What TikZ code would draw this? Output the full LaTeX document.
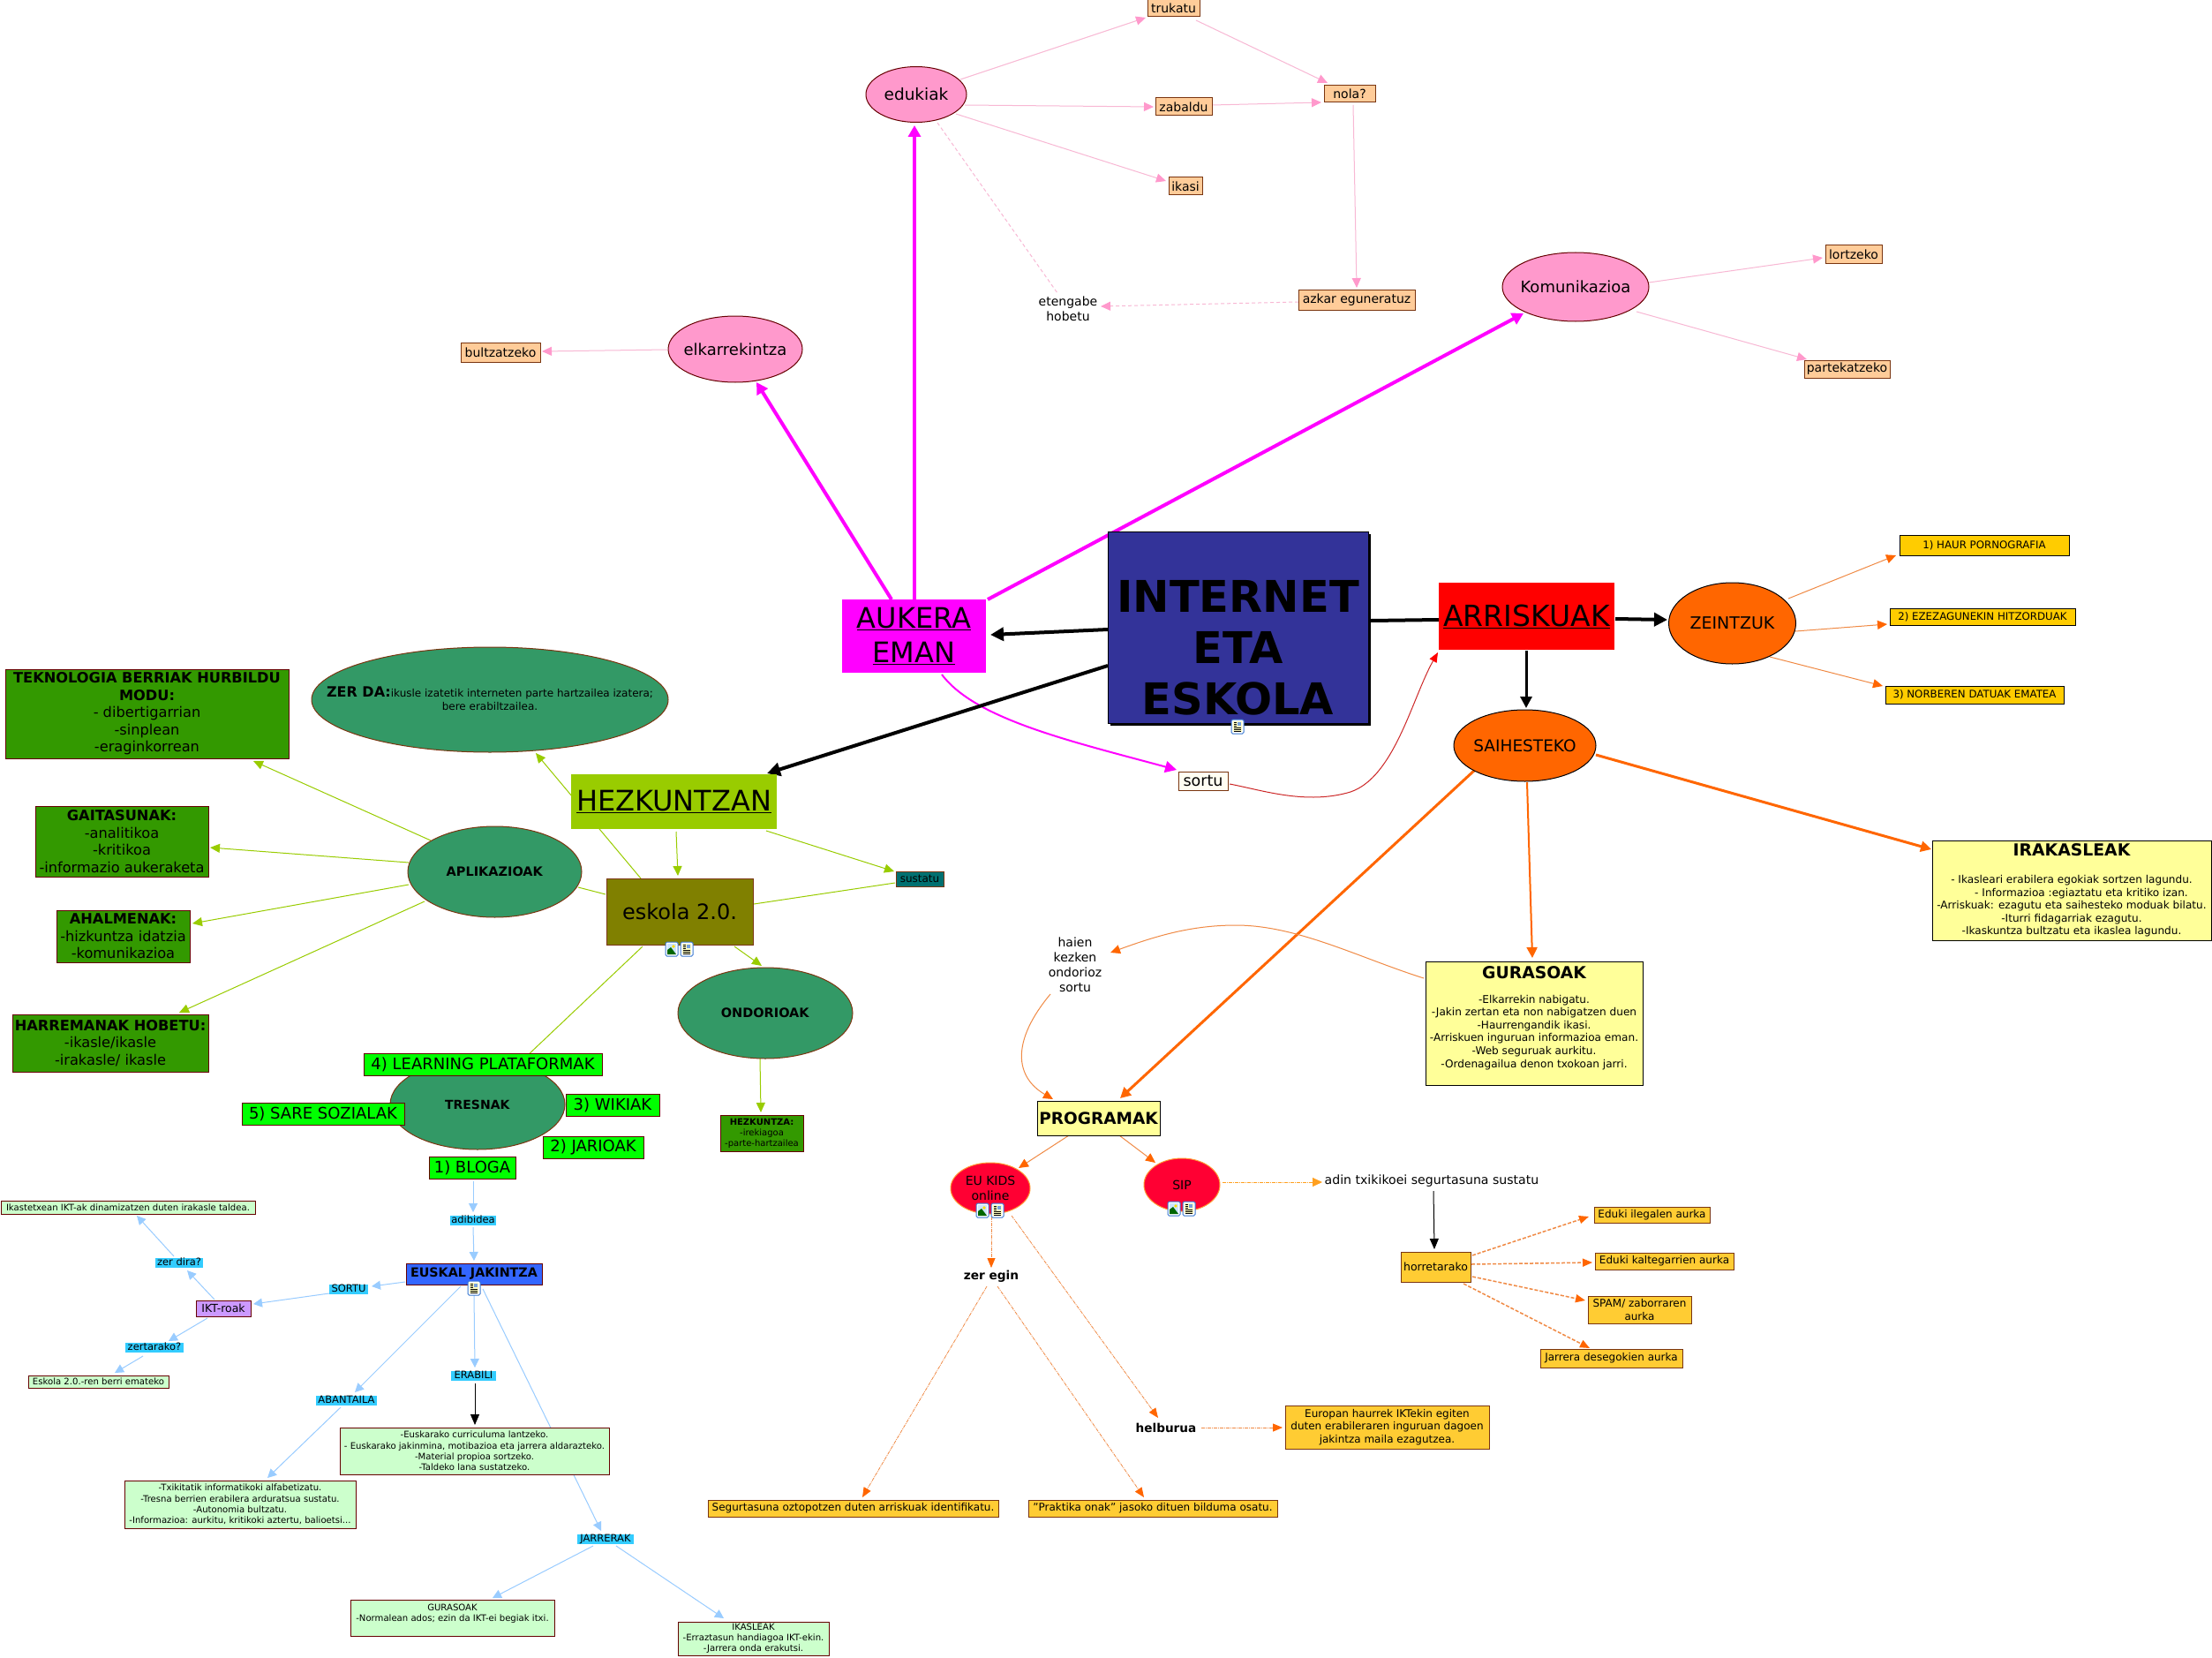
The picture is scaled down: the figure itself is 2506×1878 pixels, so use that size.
\documentclass[tikz,border=0pt]{standalone}
\usepackage{fontspec}
\setmainfont{DejaVu Sans}
\usetikzlibrary{shapes.geometric,arrows.meta,backgrounds}
\definecolor{mag}{HTML}{FF00FF}
\definecolor{pkt}{HTML}{FF99CC}
\definecolor{pkl}{HTML}{F8B8D4}
\definecolor{pfill}{HTML}{FFCC99}
\definecolor{bordb}{HTML}{7A3510}
\definecolor{bordr}{HTML}{660000}
\definecolor{gline}{HTML}{99CC00}
\definecolor{gdark}{HTML}{339900}
\definecolor{gell}{HTML}{339966}
\definecolor{lime}{HTML}{00FF00}
\definecolor{pale}{HTML}{CCFFCC}
\definecolor{bline}{HTML}{99CCFF}
\definecolor{bfill}{HTML}{33CCFF}
\definecolor{org}{HTML}{FF6600}
\definecolor{orgl}{HTML}{F08A45}
\definecolor{amb}{HTML}{FFCC33}
\definecolor{gold}{HTML}{FFCC00}
\definecolor{yel}{HTML}{FFFF99}
\definecolor{iconb}{HTML}{3A78D0}
\definecolor{ambl}{HTML}{FFA020}
\tikzset{
  sz/.style 2 args={minimum width=#1pt,minimum height=#2pt},
  fs/.style 2 args={font=\fontsize{#1}{#2}\selectfont},
  base/.style={inner sep=0pt,outer sep=0pt,align=center,text=black},
  rbox/.style={base,rectangle,draw=bordb,line width=1pt},
  ell/.style={base,ellipse,draw=bordb,line width=1pt},
  plain/.style={base,rectangle},
  pinkbox/.style={rbox,fill=pfill,fs={14}{17}},
  pinkell/.style={ell,fill=pkt,draw=bordr,fs={18.5}{22}},
  greenbox/.style={rbox,fill=gdark,draw=bordr,fs={16.2}{19.5}},
  greenell/.style={ell,fill=gell,fs={14.5}{17}},
  limebox/.style={rbox,fill=lime,draw=bordr,fs={18}{22}},
  blab/.style={base,rectangle,fill=bfill,fs={11.5}{14},text height=8.5pt,text depth=2pt},
  palebox/.style={rbox,fill=pale,draw=bordr,fs={10.1}{12.2}},
  yelbox/.style={rbox,fill=yel,draw=black,fs={12.1}{14.6}},
  ambbox/.style={rbox,fill=amb,fs={12}{14.7}},
  goldbox/.style={rbox,fill=gold,draw=black,fs={11.8}{15}},
  pkar/.style={draw=pkl,line width=1pt,-{Triangle[length=11pt,width=10pt,color=pkt]}},
  pkdash/.style={draw=pkl,line width=1pt,dash pattern=on 4pt off 3pt},
  magar/.style={draw=mag,line width=4pt,-{Triangle[length=13pt,width=14pt,color=mag]}},
  magthin/.style={draw=mag,line width=2pt,-{Triangle[length=13pt,width=13pt,color=mag]}},
  blkar/.style={draw=black,line width=4pt,-{Triangle[length=15pt,width=15pt]}},
  blkmid/.style={draw=black,line width=3pt,-{Triangle[length=13pt,width=13pt]}},
  blkthin/.style={draw=black,line width=1pt,-{Triangle[length=12pt,width=10pt]}},
  blkline/.style={draw=black,line width=4pt},
  redcv/.style={draw={rgb,255:red,205;green,40;blue,40},line width=1pt,-{Triangle[length=11pt,width=9pt,color=red]}},
  ogthick/.style={draw=org,line width=3pt,-{Triangle[length=12pt,width=12pt,color=org]}},
  ogthin/.style={draw=orgl,line width=1pt,-{Triangle[length=11pt,width=10pt,color=org]}},
  ogdash/.style={draw=orgl,line width=1.5pt,dash pattern=on 4pt off 2pt,-{Triangle[length=11pt,width=9pt,color=org]}},
  ogdot/.style={draw=orgl,line width=.8pt,dash pattern=on 4pt off 1pt on 1pt off 1pt,-{Triangle[length=11pt,width=9pt,color=org]}},
  ambdot/.style={draw=ambl,line width=1pt,dash pattern=on 4pt off 1pt on 1pt off 1pt,-{Triangle[length=11pt,width=10pt,color=ambl]}},
  grar/.style={draw=gline,line width=1pt,-{Triangle[length=11pt,width=10pt,color=gline]}},
  grline/.style={draw=gline,line width=1pt},
  blar/.style={draw=bline,line width=1pt,-{Triangle[length=10pt,width=10pt,color=bline]}},
  docicon/.pic={
    \draw[draw=iconb,fill=white,line width=1pt,rounded corners=1.5pt] (-7,-8) rectangle (7,8);
    \fill[yel!60] (-5,-6) rectangle (5,6);
    \fill[iconb!70] (0,-5.5) rectangle (4,-1.5);
    \draw[line width=.8pt] (-4,-5)--(-1,-5) (-4,-3)--(-1,-3) (-4,-1)--(-1,-1) (-4,1)--(4,1) (-4,3)--(4,3) (-4,5)--(4,5);
  },
  imgicon/.pic={
    \draw[draw=iconb,fill=white,line width=1pt,rounded corners=1.5pt] (-7,-8) rectangle (7,8);
    \fill[bline!50] (-5,-6) rectangle (5,6);
    \fill[yellow!80!orange] (2,-3) circle (1.8);
    \fill[green!40!black] (-5,6) -- (-5,1) -- (-1,-2) -- (5,6) -- cycle;
  }
}
\begin{document}
\begin{tikzpicture}[x=1pt,y=-1pt]
\useasboundingbox (0,0) rectangle (2506,1878);

% ---- central
\node[plain,fill=black,sz={295}{217}] (internetshadow) at (1405.5,713.5) {};
\node[rbox,draw=black,fill={rgb,255:red,51;green,51;blue,153},sz={295}{217},font=\fontsize{49.5}{58}\selectfont\bfseries] (internet) at (1402.5,710.5) {\rule{0pt}{82pt}INTERNET\\ETA\\ESKOLA};
\node[plain,fill=mag,sz={163}{83},fs={32}{39}] (aukera) at (1035.5,720.5) {\underline{AUKERA}\\\underline{EMAN}};
\node[plain,fill=red,sz={199}{76},fs={33}{40}] (arriskuak) at (1729.5,698) {\underline{ARRISKUAK}};
\node[plain,fill=gline,sz={233}{62},fs={32}{40}] (hezkuntzan) at (763.5,908) {\underline{HEZKUNTZAN}};
\node[rbox,fill=white!95!yellow,sz={56}{21},fs={17.5}{21}] (sortua) at (1363,884.5) {sortu};

% ---- pink
\node[pinkell,sz={114}{63}] (edukiak) at (1038,107) {edukiak};
\node[pinkell,sz={152}{75},fs={18}{22}] (elkarrekintza) at (833,395.5) {\makebox[0pt]{elkarrekintza}};
\node[pinkell,sz={166}{78},fs={18}{22}] (komunikazioa) at (1785,325) {\makebox[0pt]{Komunikazioa}};
\node[pinkbox,sz={59}{19}] (trukatu) at (1329.5,9.5) {trukatu};
\node[pinkbox,sz={58}{19}] (nola) at (1529,106.5) {nola?};
\node[pinkbox,sz={64}{20}] (zabaldu) at (1341,121) {zabaldu};
\node[pinkbox,sz={38}{20}] (ikasi) at (1343,211) {ikasi};
\node[pinkbox,sz={132}{22}] (azkar) at (1537,340) {azkar eguneratuz};
\node[plain,fs={14}{17}] (etengabe) at (1210,349.5) {etengabe\\hobetu};
\node[pinkbox,sz={90}{22}] (bultzatzeko) at (567,399) {bultzatzeko};
\node[pinkbox,sz={64}{21}] (lortzeko) at (2100,288.5) {lortzeko};
\node[pinkbox,sz={97}{20}] (partekatzeko) at (2092.5,418) {partekatzeko};

% ---- risks
\node[ell,draw=black,fill=org,sz={144}{92},fs={19}{23}] (zeintzuk) at (1962.5,706) {\makebox[0pt]{ZEINTZUK}};
\node[ell,draw=black,fill=org,sz={161}{81},fs={18.5}{22}] (saihesteko) at (1727.5,844.5) {\makebox[0pt]{SAIHESTEKO}};
\node[goldbox,sz={192}{23}] (haur) at (2248,617.5) {1) HAUR PORNOGRAFIA};
\node[goldbox,sz={210}{19}] (ezez) at (2246,698.5) {2) EZEZAGUNEKIN HITZORDUAK};
\node[goldbox,sz={202}{20}] (datuak) at (2237,787) {3) NORBEREN DATUAK EMATEA};
\node[yelbox,sz={316}{113}] (irakasleak) at (2347,1008.5) {{\fontsize{18.8}{22}\selectfont\bfseries IRAKASLEAK}\\[16.4pt]- Ikasleari erabilera egokiak sortzen lagundu.\\\hspace*{22pt}- Informazioa :egiaztatu eta kritiko izan.\\-Arriskuak: ezagutu eta saihesteko moduak bilatu.\\-Iturri fidagarriak ezagutu.\\-Ikaskuntza bultzatu eta ikaslea lagundu.};
\node[yelbox,sz={246}{140}] (gurasoak) at (1738,1159) {{\fontsize{18.8}{22}\selectfont\bfseries GURASOAK}\\[13.4pt]-Elkarrekin nabigatu.\\-Jakin zertan eta non nabigatzen duen\\-Haurrengandik ikasi.\\-Arriskuen inguruan informazioa eman.\\-Web seguruak aurkitu.\\-Ordenagailua denon txokoan jarri.\\~};
\node[plain,fs={14}{17}] (haien) at (1218,1092.5) {haien\\kezken\\ondorioz\\sortu};
\node[yelbox,sz={139}{39},font=\fontsize{18.5}{21}\selectfont\bfseries] (programak) at (1244.5,1266.5) {PROGRAMAK};
\node[ell,draw=orange!80,fill={rgb,255:red,255;green,0;blue,51},sz={90}{58},fs={14}{17}] (eukids) at (1122,1346) {EU KIDS\\online};
\node[ell,draw=orange!80,fill={rgb,255:red,255;green,0;blue,51},sz={86}{60},fs={14}{17}] (sip) at (1339,1342) {SIP};
\node[plain,fs={14.1}{17}] (adin) at (1622,1338) {adin txikikoei segurtasuna sustatu};
\node[ambbox,sz={79}{34},fs={12.5}{15}] (horretarako) at (1626.5,1435) {horretarako};
\node[ambbox,sz={131}{18}] (ilegal) at (1871.5,1376) {Eduki ilegalen aurka};
\node[ambbox,sz={157}{19}] (kalte) at (1885.5,1428.5) {Eduki kaltegarrien aurka};
\node[ambbox,sz={117}{31}] (spam) at (1857.5,1483.5) {SPAM/ zaborraren\\aurka};
\node[ambbox,sz={161}{21}] (jarrera) at (1825.5,1538.5) {Jarrera desegokien aurka};
\node[plain,font=\fontsize{13.7}{16}\selectfont\bfseries] (zeregin) at (1123,1446) {zer egin};
\node[plain,font=\fontsize{13.6}{16}\selectfont\bfseries] (helburua) at (1321,1617) {helburua};
\node[ambbox,sz={329}{19}] (segur) at (966.5,1708.5) {Segurtasuna oztopotzen duten arriskuak identifikatu.};
\node[ambbox,sz={282}{19}] (praktika) at (1306,1708.5) {"Praktika onak" jasoko dituen bilduma osatu.};
\node[ambbox,sz={231}{49}] (europan) at (1571.5,1616.5) {Europan haurrek IKTekin egiten\\duten erabileraren inguruan dagoen\\jakintza maila ezagutzea.};

% ---- education
\node[rbox,fill={rgb,255:red,128;green,128;blue,0},sz={166}{75},fs={24}{29}] (eskola) at (770,1032.5) {eskola 2.0.};
\node[rbox,fill={rgb,255:red,0;green,112;blue,112},sz={54}{17},fs={12}{14}] (sustatu) at (1042,995.5) {sustatu};
\node[ell,fill=gell,sz={404}{119},fs={12}{15}] (zerda) at (555,792.5) {\makebox[0pt]{\smash{\raisebox{-4pt}{\begin{tabular}{@{}c@{}}{\fontsize{16}{16}\selectfont\bfseries ZER DA:}ikusle izatetik interneten parte hartzailea izatera;\\bere erabiltzailea.\end{tabular}}}}};
\node[greenell,sz={197}{103}] (aplikazioak) at (560.5,987.5) {\makebox[0pt]{\textbf{APLIKAZIOAK}}};
\node[greenell,sz={198}{103}] (ondorioak) at (867,1147.5) {\makebox[0pt]{\textbf{ONDORIOAK}}};
\node[greenbox,sz={321}{101}] (teknologia) at (166.5,808.5) {\textbf{TEKNOLOGIA BERRIAK HURBILDU}\\\textbf{MODU:}\\- dibertigarrian\\-sinplean\\-eraginkorrean};
\node[greenbox,sz={196}{80}] (gaitasunak) at (138,953) {\textbf{GAITASUNAK:}\\-analitikoa\\-kritikoa\\-informazio aukeraketa};
\node[greenbox,sz={151}{59}] (ahalmenak) at (139.5,1060.5) {\textbf{AHALMENAK:}\\-hizkuntza idatzia\\-komunikazioa};
\node[greenbox,sz={222}{65}] (harremanak) at (125,1181.5) {\textbf{HARREMANAK HOBETU:}\\-ikasle/ikasle\\-irakasle/ ikasle};
\node[greenbox,sz={94}{41},fs={10}{12}] (hezk) at (863,1283.5) {\textbf{HEZKUNTZA:}\\-irekiagoa\\-parte-hartzailea};
\node[greenell,sz={198}{102},fs={14}{17}] (tresnak) at (541,1251) {\makebox[0pt]{\textbf{TRESNAK}}};
\node[limebox,sz={270}{25}] (learning) at (547,1205.5) {4) LEARNING PLATAFORMAK};
\node[limebox,sz={106}{25}] (wikiak) at (694,1251.5) {3) WIKIAK};
\node[limebox,sz={114}{25}] (jarioak) at (672,1299.5) {2) JARIOAK};
\node[limebox,sz={184}{25}] (sare) at (366,1261.5) {5) SARE SOZIALAK};
\node[limebox,sz={98}{25}] (bloga) at (535,1322.5) {1) BLOGA};

% ---- euskal jakintza
\node[blab,sz={52}{11}] (adibidea) at (536,1382) {adibidea};
\node[rbox,draw=bordr,fill={rgb,255:red,51;green,102;blue,255},sz={154}{24},font=\fontsize{14.3}{17}\selectfont\bfseries] (euskal) at (537,1443) {EUSKAL JAKINTZA};
\node[blab,sz={44}{11}] (sortub) at (395,1460.5) {SORTU};
\node[rbox,draw=bordr,fill={rgb,255:red,204;green,153;blue,255},sz={62}{18},fs={12.5}{15}] (ikt) at (253,1482) {IKT-roak};
\node[blab,sz={54}{11}] (zerdira) at (203,1430.5) {zer dira?};
\node[blab,sz={66}{11}] (zertarako) at (175,1526.5) {zertarako?};
\node[palebox,sz={288}{15}] (ikastetxean) at (145,1367.5) {Ikastetxean IKT-ak dinamizatzen duten irakasle taldea.};
\node[palebox,sz={159}{14}] (eskolab) at (111.5,1565) {Eskola 2.0.-ren berri emateko};
\node[blab,sz={69}{11}] (abantaila) at (392.5,1586.5) {ABANTAILA};
\node[blab,sz={51}{11}] (erabili) at (536.5,1558.5) {ERABILI};
\node[blab,sz={64}{11}] (jarrerak) at (686,1743.5) {JARRERAK};
\node[palebox,sz={305}{53}] (euskarako) at (537.5,1643.5) {-Euskarako curriculuma lantzeko.\\- Euskarako jakinmina, motibazioa eta jarrera aldarazteko.\\-Material propioa sortzeko.\\-Taldeko lana sustatzeko.};
\node[palebox,sz={262}{54}] (txiki) at (272,1704) {-Txikitatik informatikoki alfabetizatu.\\-Tresna berrien erabilera arduratsua sustatu.\\-Autonomia bultzatu.\\-Informazioa: aurkitu, kritikoki aztertu, balioetsi...};
\node[palebox,sz={231}{41}] (gurasob) at (512.5,1832.5) {GURASOAK\\-Normalean ados; ezin da IKT-ei begiak itxi.\\~};
\node[palebox,sz={171}{38}] (ikasleak) at (853.5,1856) {IKASLEAK\\-Erraztasun handiagoa IKT-ekin.\\-Jarrera onda erakutsi.};

% ---- icons
\pic at (1402,823) {docicon};
\pic at (761,1075) {imgicon};
\pic at (778,1075) {docicon};
\pic at (537,1459) {docicon};
\pic at (1113,1371) {imgicon};
\pic at (1130,1371) {docicon};
\pic at (1330,1369) {imgicon};
\pic at (1347,1369) {docicon};

% ---- connectors, behind the nodes
\begin{scope}[on background layer]
\fill[white] (0,0) rectangle (2506,1878);
% pink
\draw[pkar] ([shift={(50,-17)}]edukiak.center) -- ([shift={(-31.5,10.5)}]trukatu.center);
\draw[pkar] ([shift={(55,12)}]edukiak.center) -- ([shift={(-34,0)}]zabaldu.center);
\draw[pkar] ([shift={(45,22)}]edukiak.center) -- ([shift={(-22,-6)}]ikasi.center);
\draw[pkdash] ([shift={(24,32)}]edukiak.center) -- ([shift={(-12,-17.5)}]etengabe.center);
\draw[pkar] ([shift={(25.5,13.5)}]trukatu.center) -- ([shift={(-25,-12.5)}]nola.center);
\draw[pkar] ([shift={(32,-2)}]zabaldu.center) -- ([shift={(-32,9.5)}]nola.center);
\draw[pkar] ([shift={(4,12.5)}]nola.center) -- ([shift={(0,-14)}]azkar.center);
\draw[pkar,dash pattern=on 4pt off 3pt] ([shift={(-66,2)}]azkar.center) -- ([shift={(37,-2.5)}]etengabe.center);
\draw[pkar] ([shift={(-77,0.5)}]elkarrekintza.center) -- ([shift={(47,-1)}]bultzatzeko.center);
\draw[pkar] ([shift={(83,-5)}]komunikazioa.center) -- ([shift={(-35,3.5)}]lortzeko.center);
\draw[pkar] ([shift={(69,28)}]komunikazioa.center) -- ([shift={(-45.5,-11)}]partekatzeko.center);
% magenta
\draw[magar] ([shift={(0.5,-41.5)}]aukera.center) -- ([shift={(-2,35)}]edukiak.center);
\draw[magar] ([shift={(-25.5,-41.5)}]aukera.center) -- ([shift={(24,37.5)}]elkarrekintza.center);
\draw[magar] ([shift={(83.5,-41.5)}]aukera.center) -- ([shift={(-59,30)}]komunikazioa.center);
\draw[magthin] ([shift={(31.5,43.5)}]aukera.center) .. controls (1105,815) and (1215,840) .. ([shift={(-30,-12.5)}]sortua.center);
\draw[redcv] ([shift={(30,3.5)}]sortua.center) .. controls (1430,895) and (1480,912) .. (1530,897) .. controls (1580,880) and (1600,790) .. ([shift={(-100.5,41)}]arriskuak.center);
% black
\draw[blkar] ([shift={(-147.5,2.5)}]internet.center) -- ([shift={(86.5,-1.5)}]aukera.center);
\draw[blkar] ([shift={(-147.5,43.5)}]internet.center) -- ([shift={(105.5,-32)}]hezkuntzan.center);
\draw[blkline] ([shift={(150.5,-7.5)}]internet.center) -- ([shift={(-99.5,4)}]arriskuak.center);
\draw[blkmid] ([shift={(-0.5,39)}]arriskuak.center) -- ([shift={(1.5,-42.5)}]saihesteko.center);
\draw[blkar] ([shift={(100.5,3)}]arriskuak.center) -- ([shift={(-73.5,-4)}]zeintzuk.center);
% orange
\draw[ogthin] ([shift={(63.5,-28)}]zeintzuk.center) -- ([shift={(-100,11.5)}]haur.center);
\draw[ogthin] ([shift={(71.5,9)}]zeintzuk.center) -- ([shift={(-108,8.5)}]ezez.center);
\draw[ogthin] ([shift={(42.5,38)}]zeintzuk.center) -- ([shift={(-104,-10)}]datuak.center);
\draw[ogthick] ([shift={(-56.5,27.5)}]saihesteko.center) -- ([shift={(24.5,-22.5)}]programak.center);
\draw[ogthick,line width=2pt] ([shift={(2.5,41.5)}]saihesteko.center) -- ([shift={(-2,-74)}]gurasoak.center);
\draw[ogthick] ([shift={(80.5,10.5)}]saihesteko.center) -- ([shift={(-159,-46.5)}]irakasleak.center);
\draw[ogthin] ([shift={(-125,-51)}]gurasoak.center) .. controls (1540,1085) and (1470,1048) .. (1400,1048) .. controls (1350,1048) and (1310,1060) .. ([shift={(40,-13.5)}]haien.center);
\draw[ogthin] ([shift={(-28,33.5)}]haien.center) .. controls (1145,1180) and (1150,1220) .. ([shift={(-51.5,-21.5)}]programak.center);
\draw[ogthin] ([shift={(-33.5,19.5)}]programak.center) -- ([shift={(32,-23)}]eukids.center);
\draw[ogthin] ([shift={(23.5,19.5)}]programak.center) -- ([shift={(-30,-25)}]sip.center);
\draw[ambdot] ([shift={(46,-3)}]sip.center) -- ([shift={(-124,1)}]adin.center);
\draw[blkthin] ([shift={(2,11)}]adin.center) -- ([shift={(-1.5,-20)}]horretarako.center);
\draw[ogdash] ([shift={(41.5,-13)}]horretarako.center) -- ([shift={(-71.5,2)}]ilegal.center);
\draw[ogdash] ([shift={(40.5,-3)}]horretarako.center) -- ([shift={(-81.5,1.5)}]kalte.center);
\draw[ogdash] ([shift={(41.5,11)}]horretarako.center) -- ([shift={(-61.5,-10.5)}]spam.center);
\draw[ogdash] ([shift={(31.5,19)}]horretarako.center) -- ([shift={(-24.5,-11.5)}]jarrera.center);
\draw[ogdot] ([shift={(1,32)}]eukids.center) -- ([shift={(0,-10)}]zeregin.center);
\draw[ogdot] ([shift={(24,31)}]eukids.center) -- ([shift={(-9,-11)}]helburua.center);
\draw[ogdot] ([shift={(-5,11)}]zeregin.center) -- ([shift={(10.5,-12.5)}]segur.center);
\draw[ogdot] ([shift={(7,11)}]zeregin.center) -- ([shift={(-10,-12.5)}]praktika.center);
\draw[ogdot] ([shift={(40,0)}]helburua.center) -- ([shift={(-118.5,0.5)}]europan.center);
% green
\draw[grar] ([shift={(-44,-37.5)}]eskola.center) -- ([shift={(52,60.5)}]zerda.center);
\draw[grline] ([shift={(-84,-19.5)}]eskola.center) -- ([shift={(94.5,17.5)}]aplikazioak.center);
\draw[grar] ([shift={(2.5,34)}]hezkuntzan.center) -- ([shift={(-2,-40.5)}]eskola.center);
\draw[grar] ([shift={(104.5,33)}]hezkuntzan.center) -- ([shift={(-29,-8.5)}]sustatu.center);
\draw[grline] ([shift={(84,-8.5)}]eskola.center) -- ([shift={(-28,4.5)}]sustatu.center);
\draw[grar] ([shift={(62,39.5)}]eskola.center) -- ([shift={(-4,-53.5)}]ondorioak.center);
\draw[grar] ([shift={(-6,51.5)}]ondorioak.center) -- ([shift={(-1,-23.5)}]hezk.center);
\draw[grline] ([shift={(-42,39.5)}]eskola.center) -- ([shift={(36,-36)}]tresnak.center);
\draw[grar] ([shift={(-72.5,-35.5)}]aplikazioak.center) -- ([shift={(120.5,53.5)}]teknologia.center);
\draw[grar] ([shift={(-97.5,-10.5)}]aplikazioak.center) -- ([shift={(100,7)}]gaitasunak.center);
\draw[grar] ([shift={(-97.5,14.5)}]aplikazioak.center) -- ([shift={(78.5,-14.5)}]ahalmenak.center);
\draw[grar] ([shift={(-79.5,33.5)}]aplikazioak.center) -- ([shift={(78,-34.5)}]harremanak.center);
% blue
\draw[blar] ([shift={(1,15.5)}]bloga.center) -- ([shift={(0,-9)}]adibidea.center);
\draw[blar] ([shift={(0,8)}]adibidea.center) -- ([shift={(0,-15)}]euskal.center);
\draw[blar] ([shift={(-78,9)}]euskal.center) -- ([shift={(26,-3.5)}]sortub.center);
\draw[blar] ([shift={(-22,4.5)}]sortub.center) -- ([shift={(34,-5)}]ikt.center);
\draw[blar] ([shift={(-10,-10)}]ikt.center) -- ([shift={(9,8.5)}]zerdira.center);
\draw[blar] ([shift={(-6,-7.5)}]zerdira.center) -- ([shift={(10,9.5)}]ikastetxean.center);
\draw[blar] ([shift={(-18,11)}]ikt.center) -- ([shift={(16,-7.5)}]zertarako.center);
\draw[blar] ([shift={(-13,9.5)}]zertarako.center) -- ([shift={(18.5,-10)}]eskolab.center);
\draw[blar] ([shift={(-15,14)}]euskal.center) -- ([shift={(9.5,-9.5)}]abantaila.center);
\draw[blar] ([shift={(-6.5,7.5)}]abantaila.center) -- ([shift={(31,-30)}]txiki.center);
\draw[blar] ([shift={(0,24)}]euskal.center) -- ([shift={(1.5,-9.5)}]erabili.center);
\draw[blkthin] ([shift={(1.5,8.5)}]erabili.center) -- ([shift={(0.5,-29.5)}]euskarako.center);
\draw[blar] ([shift={(10,17)}]euskal.center) -- ([shift={(-5,-9.5)}]jarrerak.center);
\draw[blar] ([shift={(-14,7.5)}]jarrerak.center) -- ([shift={(45.5,-22.5)}]gurasob.center);
\draw[blar] ([shift={(12,7.5)}]jarrerak.center) -- ([shift={(-33.5,-23)}]ikasleak.center);
\end{scope}
\end{tikzpicture}
\end{document}
